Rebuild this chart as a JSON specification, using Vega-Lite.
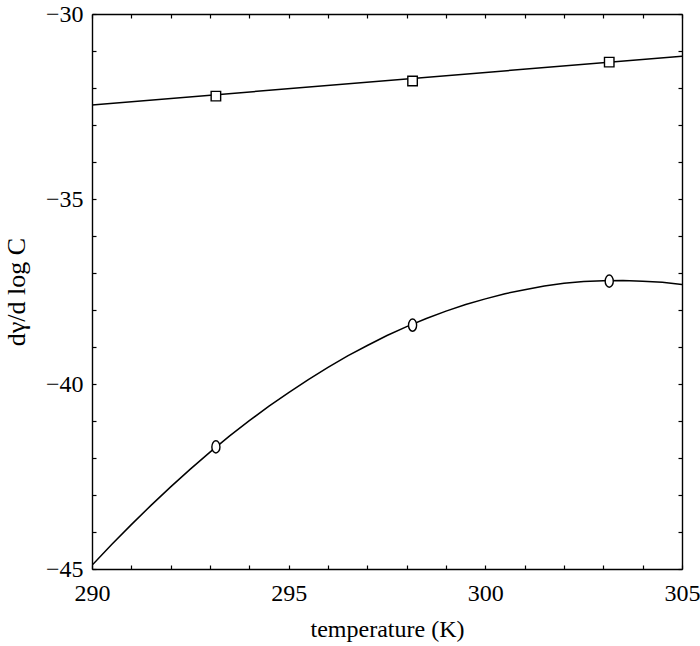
{
  "$schema": "https://vega.github.io/schema/vega-lite/v6.json",
  "width": 590,
  "height": 555,
  "autosize": {"type": "none"},
  "padding": {"left": 92, "top": 14, "right": 18, "bottom": 77},
  "background": "white",
  "config": {
    "view": {"stroke": null},
    "font": "Liberation Serif",
    "axis": {
      "grid": false,
      "domainColor": "black",
      "domainWidth": 1.4,
      "tickColor": "black",
      "tickWidth": 1.2,
      "tickSize": -4,
      "labelFlush": false,
      "labelFont": "Liberation Serif",
      "labelFontSize": 24,
      "labelColor": "black",
      "titleFont": "Liberation Serif",
      "titleFontSize": 24,
      "titleFontWeight": "normal",
      "titleColor": "black"
    }
  },
  "datasets": {
    "fitA": [
      {"temperature": 290, "value": -32.46},
      {"temperature": 305, "value": -31.14}
    ],
    "fitB": [
      {"temperature": 290, "value": -44.9},
      {"temperature": 290.5, "value": -44.34},
      {"temperature": 291, "value": -43.8},
      {"temperature": 291.5, "value": -43.28},
      {"temperature": 292, "value": -42.78},
      {"temperature": 292.5, "value": -42.3},
      {"temperature": 293, "value": -41.84},
      {"temperature": 293.5, "value": -41.4},
      {"temperature": 294, "value": -40.99},
      {"temperature": 294.5, "value": -40.6},
      {"temperature": 295, "value": -40.23},
      {"temperature": 295.5, "value": -39.88},
      {"temperature": 296, "value": -39.55},
      {"temperature": 296.5, "value": -39.24},
      {"temperature": 297, "value": -38.96},
      {"temperature": 297.5, "value": -38.69},
      {"temperature": 298, "value": -38.45},
      {"temperature": 298.5, "value": -38.23},
      {"temperature": 299, "value": -38.03},
      {"temperature": 299.5, "value": -37.85},
      {"temperature": 300, "value": -37.7},
      {"temperature": 300.5, "value": -37.56},
      {"temperature": 301, "value": -37.45},
      {"temperature": 301.5, "value": -37.35},
      {"temperature": 302, "value": -37.28},
      {"temperature": 302.5, "value": -37.23},
      {"temperature": 303, "value": -37.21},
      {"temperature": 303.5, "value": -37.2},
      {"temperature": 304, "value": -37.22},
      {"temperature": 304.5, "value": -37.25},
      {"temperature": 305, "value": -37.31}
    ],
    "pointsA": [
      {"temperature": 293.15, "value": -32.22},
      {"temperature": 298.15, "value": -31.81},
      {"temperature": 303.15, "value": -31.3}
    ],
    "pointsB": [
      {"temperature": 293.15, "value": -41.7},
      {"temperature": 298.15, "value": -38.41},
      {"temperature": 303.15, "value": -37.22}
    ]
  },
  "resolve": {"axis": {"x": "independent", "y": "independent"}},
  "layer": [
    {
      "data": {"name": "fitA"},
      "mark": {"type": "line", "color": "black", "strokeWidth": 1.5, "clip": true},
      "encoding": {
        "x": {
          "field": "temperature", "type": "quantitative",
          "scale": {"domain": [290, 305], "nice": false, "zero": false},
          "axis": {
            "orient": "bottom",
            "title": "temperature (K)",
            "values": [290, 291, 292, 293, 294, 295, 296, 297, 298, 299, 300, 301, 302, 303, 304, 305],
            "labelExpr": "datum.value % 5 === 0 ? datum.label : ''",
            "labelPadding": 16,
            "titlePadding": 12
          }
        },
        "y": {
          "field": "value", "type": "quantitative",
          "scale": {"domain": [-45, -30], "nice": false, "zero": false},
          "axis": {
            "orient": "left",
            "title": "dγ/d log C",
            "titleFontSize": 26,
            "values": [-45, -44, -43, -42, -41, -40, -39, -38, -37, -36, -35, -34, -33, -32, -31, -30],
            "labelExpr": "datum.value % 5 === 0 ? datum.label : ''",
            "labelPadding": 13,
            "titlePadding": 16
          }
        }
      }
    },
    {
      "data": {"name": "fitB"},
      "mark": {"type": "line", "color": "black", "strokeWidth": 1.5, "clip": true},
      "encoding": {
        "x": {
          "field": "temperature", "type": "quantitative",
          "axis": {
            "orient": "top",
            "title": null,
            "labels": false,
            "values": [290, 291, 292, 293, 294, 295, 296, 297, 298, 299, 300, 301, 302, 303, 304, 305]
          }
        },
        "y": {
          "field": "value", "type": "quantitative",
          "axis": {
            "orient": "right",
            "title": null,
            "labels": false,
            "values": [-45, -44, -43, -42, -41, -40, -39, -38, -37, -36, -35, -34, -33, -32, -31, -30]
          }
        }
      }
    },
    {
      "data": {"name": "pointsA"},
      "mark": {"type": "point", "shape": "square", "size": 90, "filled": false, "stroke": "black", "fill": "white", "fillOpacity": 1, "strokeWidth": 1.4, "opacity": 1},
      "encoding": {
        "x": {"field": "temperature", "type": "quantitative", "axis": null},
        "y": {"field": "value", "type": "quantitative", "axis": null}
      }
    },
    {
      "data": {"name": "pointsB"},
      "mark": {"type": "point", "shape": "M0,-1A0.66,1,0,1,1,0,1A0.66,1,0,1,1,0,-1Z", "size": 150, "filled": false, "stroke": "black", "fill": "white", "fillOpacity": 1, "strokeWidth": 1.4, "opacity": 1},
      "encoding": {
        "x": {"field": "temperature", "type": "quantitative", "axis": null},
        "y": {"field": "value", "type": "quantitative", "axis": null}
      }
    }
  ]
}
